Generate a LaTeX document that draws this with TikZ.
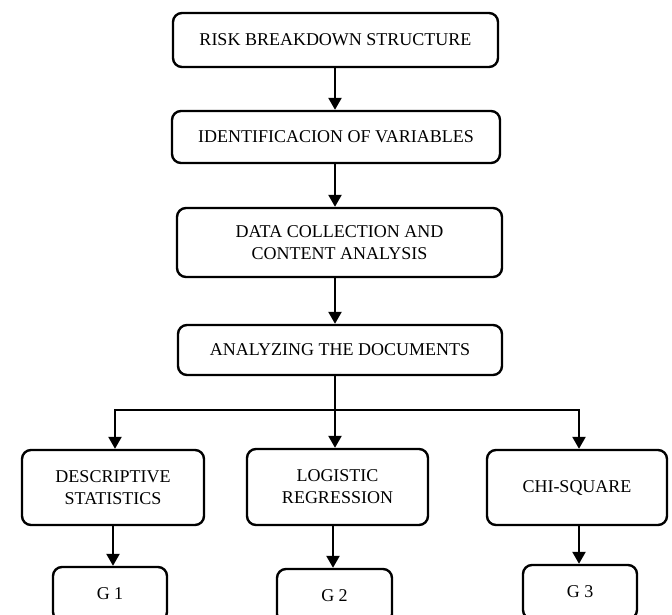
\documentclass[tikz,border=0pt]{standalone}
\usepackage{fontspec}
\setmainfont{Liberation Serif}
\usetikzlibrary{arrows.meta}
\begin{document}
\begin{tikzpicture}[x=1pt,y=-1pt,
  box/.style={draw, line width=2.4pt, rounded corners=9pt, align=center,
    font=\fontsize{18}{22}\selectfont, inner sep=0pt},
  arr/.style={line width=2.4pt, -{Triangle[length=12pt,width=13pt]}},
  link/.style={line width=2.4pt}]
\clip (0,0) rectangle (672,615);
\fill[white] (0,0) rectangle (672,615);
% columns
\coordinate (spine) at (335,0);
\coordinate (dcol) at (115,0);
\coordinate (rcol) at (579,0);
\coordinate (g1col) at (113,0);
\coordinate (g2col) at (333,0);
\coordinate (g3col) at (579,0);
\coordinate (hub) at (335,410);
% main column
\node[box, minimum width=325pt, minimum height=54pt] (b1) at (335.5,40) {RISK BREAKDOWN STRUCTURE};
\node[box, minimum width=328pt, minimum height=52pt] (b2) at (336,137) {IDENTIFICACION OF VARIABLES};
\node[box, minimum width=325pt, minimum height=69pt] (b3) at (339.5,242.5) {DATA COLLECTION AND\\CONTENT ANALYSIS};
\node[box, minimum width=324pt, minimum height=50pt] (b4) at (340,350) {ANALYZING THE DOCUMENTS};
% methods
\node[box, minimum width=182pt, minimum height=75pt] (d) at (113,487.5) {DESCRIPTIVE\\STATISTICS};
\node[box, minimum width=181pt, minimum height=76pt] (l) at (337.5,487) {LOGISTIC\\REGRESSION};
\node[box, minimum width=180pt, minimum height=75pt] (c) at (577,487.5) {CHI-SQUARE};
% results
\node[box, minimum width=114pt, minimum height=54pt] (g1) at (110,594) {G 1};
\node[box, minimum width=115pt, minimum height=54pt] (g2) at (334.5,596) {G 2};
\node[box, minimum width=114pt, minimum height=54pt] (g3) at (580,592) {G 3};
% connectors
\draw[arr] (b1.south -| spine) -- (b2.north -| spine);
\draw[arr] (b2.south -| spine) -- (b3.north -| spine);
\draw[arr] (b3.south -| spine) -- (b4.north -| spine);
\draw[arr] (b4.south -| spine) -- (l.north -| spine);
\draw[arr] (hub) -| (d.north -| dcol);
\draw[arr] (hub) -| (c.north -| rcol);
\draw[arr] (d.south -| g1col) -- (g1.north -| g1col);
\draw[arr] (l.south -| g2col) -- (g2.north -| g2col);
\draw[arr] (c.south -| g3col) -- (g3.north -| g3col);
\end{tikzpicture}
\end{document}
